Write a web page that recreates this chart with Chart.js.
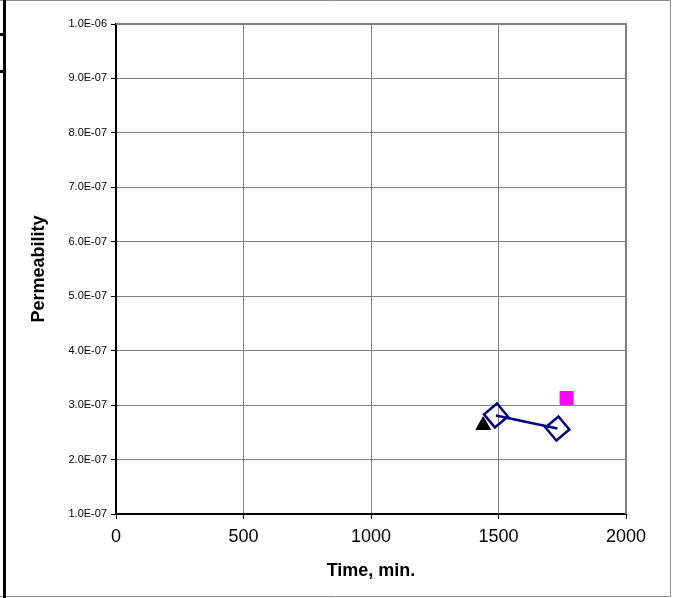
<!DOCTYPE html>
<html>
<head>
<meta charset="utf-8">
<script src="https://cdn.jsdelivr.net/npm/chart.js@4/dist/chart.umd.min.js"></script>
<style>
  html, body { margin: 0; padding: 0; background: #fff; }
  canvas { display: block; }
</style>
</head>
<body>
<canvas id="chart" width="679" height="598"></canvas>
<script>
// values
const diamondTime = [1490, 1731];
const diamondPerm = [2.81e-7, 2.57e-7];
const triangleTime = [1440];
const trianglePerm = [2.63e-7];
const squareTime = [1767];
const squarePerm = [3.13e-7];

const xTicks = [0, 500, 1000, 1500, 2000];
const yTicks = [1e-7, 2e-7, 3e-7, 4e-7, 5e-7, 6e-7, 7e-7, 8e-7, 9e-7, 1e-6];

const FONT = "'Liberation Sans', Arial, sans-serif";

function toPoints(xs, ys) {
    return xs.map((x, i) => ({ x: x, y: ys[i] }));
}

// 1.0E-06 style labels
function sci(v) {
    const exp = Math.floor(Math.log10(v) + 1e-9);
    const mant = (v / Math.pow(10, exp)).toFixed(1);
    const sign = exp < 0 ? '-' : '+';
    return mant + 'E' + sign + String(Math.abs(exp)).padStart(2, '0');
}

// the sheet's frame and the plot-area border
const framePlugin = {
    id: 'frame',
    beforeDraw(chart) {
        const ctx = chart.ctx;
        ctx.save();
        ctx.fillStyle = '#fff';
        ctx.fillRect(0, 0, chart.width, chart.height);
        ctx.strokeStyle = '#8c8c8c';
        ctx.lineWidth = 1;
        ctx.beginPath();
        ctx.moveTo(0, 0.5); ctx.lineTo(670.5, 0.5);
        ctx.lineTo(670.5, 596.5); ctx.lineTo(0, 596.5);
        ctx.stroke();
        ctx.fillStyle = '#000';
        ctx.fillRect(3, 0, 3, chart.height);
        ctx.fillRect(0, 33, 3, 3);
        ctx.fillRect(0, 70, 3, 3);
        ctx.restore();
    },
    beforeDatasetsDraw(chart) {
        const a = chart.chartArea;
        const ctx = chart.ctx;
        ctx.save();
        ctx.strokeStyle = '#808080';
        ctx.lineWidth = 2;
        ctx.beginPath();
        ctx.moveTo(a.left, a.top);
        ctx.lineTo(a.right, a.top);
        ctx.lineTo(a.right, a.bottom);
        ctx.stroke();
        ctx.restore();
    }
};

new Chart(document.getElementById('chart').getContext('2d'), {
    type: 'scatter',
    data: {
        datasets: [
            {
                data: toPoints(diamondTime, diamondPerm),
                showLine: true,
                borderColor: '#000080',
                borderWidth: 2.5,
                pointStyle: 'rectRot',
                pointRotation: 5,
                pointRadius: 12,
                pointBorderWidth: 2.5,
                pointBorderColor: '#000080',
                pointBackgroundColor: 'rgba(0,0,0,0)'
            },
            {
                data: toPoints(triangleTime, trianglePerm),
                pointStyle: 'triangle',
                pointRadius: 8.4,
                pointBorderWidth: 1,
                pointBorderColor: '#000',
                pointBackgroundColor: '#000'
            },
            {
                data: toPoints(squareTime, squarePerm),
                pointStyle: 'rect',
                pointRadius: 9.2,
                pointBorderWidth: 1,
                pointBorderColor: '#ff00ff',
                pointBackgroundColor: '#ff00ff'
            }
        ]
    },
    options: {
        responsive: false,
        animation: false,
        layout: { padding: { left: 0, top: 24, right: 53, bottom: 0 } },
        plugins: {
            legend: { display: false },
            tooltip: { enabled: false }
        },
        scales: {
            x: {
                type: 'linear',
                min: 0,
                max: 2000,
                afterBuildTicks: (scale) => { scale.ticks = xTicks.map(v => ({ value: v })); },
                afterFit: (scale) => { scale.height = 84; },
                grid: { color: '#808080', lineWidth: 1, tickLength: 5, tickColor: '#000' },
                border: { color: '#000', width: 2 },
                ticks: {
                    color: '#000',
                    padding: 7,
                    maxRotation: 0,
                    font: { family: FONT, size: 18 },
                    callback: (v) => String(v)
                },
                title: {
                    display: true,
                    text: 'Time, min.',
                    color: '#000',
                    font: { family: FONT, size: 18, weight: 'bold' },
                    padding: { top: 0, bottom: 16 }
                }
            },
            y: {
                type: 'linear',
                min: 1e-7,
                max: 1e-6,
                afterBuildTicks: (scale) => { scale.ticks = yTicks.map(v => ({ value: v })); },
                afterFit: (scale) => { scale.width = 116; },
                grid: { color: '#808080', lineWidth: 1, tickLength: 5, tickColor: '#000' },
                border: { color: '#000', width: 2 },
                ticks: {
                    color: '#000',
                    padding: 4,
                    font: { family: FONT, size: 11 },
                    callback: (v) => sci(v)
                },
                title: {
                    display: true,
                    text: 'Permeability',
                    color: '#000',
                    font: { family: FONT, size: 18, weight: 'bold' },
                    padding: { top: 28, bottom: 0 }
                }
            }
        }
    },
    plugins: [framePlugin]
});
</script>
</body>
</html>
